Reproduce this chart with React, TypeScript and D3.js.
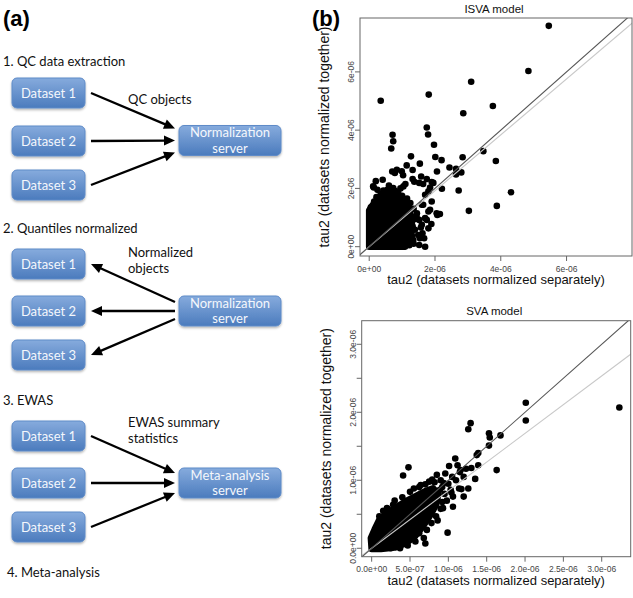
import React from "react";
import * as d3 from "d3";

type P = [number, number];

// ---------- Panel (a) content ----------
const stepTitles = ["1. QC data extraction", "2. Quantiles normalized", "3. EWAS", "4. Meta-analysis"];
const datasetNames = ["Dataset 1", "Dataset 2", "Dataset 3"];
const serverNames = [["Normalization", "server"], ["Normalization", "server"], ["Meta-analysis", "server"]];
const arrowNotes = [["QC objects"], ["Normalized", "objects"], ["EWAS summary", "statistics"]];
const flowDirections = ["in", "out", "in"];

// ---------- Panel (b) content (values in units of 1e-6) ----------
const isvaTitle = "ISVA model";
const svaTitle = "SVA model";
const xAxisTitle = "tau2 (datasets normalized separately)";
const yAxisTitle = "tau2 (datasets normalized together)";

const isvaPoints: P[] = [
  [5.46, 7.58], [4.84, 6.03], [3.10, 5.66], [0.35, 5.01], [1.81, 5.22], [3.76, 4.83], [2.86, 4.58],
  [1.75, 4.09], [1.79, 3.85], [0.71, 3.84], [0.73, 3.62], [0.67, 3.37], [1.97, 3.50], [3.47, 3.28],
  [2.01, 3.08], [1.27, 3.10], [2.84, 3.07], [2.20, 2.97], [3.85, 2.94], [2.44, 2.72], [2.06, 2.58],
  [2.64, 2.67], [2.80, 2.55], [2.64, 2.48], [2.72, 1.93], [2.21, 1.99], [4.31, 1.87], [3.88, 1.40],
  [3.03, 1.23], [2.15, 1.12], [1.89, 0.78], [1.70, 0.0],
  [1.14, 2.79], [1.54, 2.85], [1.32, 2.63], [0.70, 2.58], [0.84, 2.64], [1.03, 2.45], [1.58, 2.41],
  [0.41, 2.30], [1.90, 2.22], [1.37, 2.23], [1.64, 2.15], [1.04, 2.07], [0.14, 2.03], [0.43, 1.93],
  [1.80, 1.90], [1.44, 1.03], [1.57, 0.66], [1.62, 0.46], [1.39, 0.58], [1.29, 0.40], [1.54, 0.29],
  [1.52, 0.92], [1.75, 0.92], [1.85, 1.27], [1.64, 1.44], [2.07, 1.09],
  [0.12, 2.07], [0.73, 2.01], [0.78, 2.53], [0.99, 2.59], [1.32, 2.32], [1.75, 2.32], [1.52, 2.19],
  [1.85, 2.03], [1.95, 2.19], [1.70, 1.78], [1.90, 1.55], [1.60, 1.44], [1.80, 1.21], [1.70, 0.98],
  [2.05, 1.15], [1.60, 0.75], [1.80, 0.63], [1.49, 0.40], [1.67, 0.29], [1.34, 0.23], [1.52, 0.06],
  [0.05, 1.35], [0.15, 1.55], [0.22, 1.70], [0.35, 1.80], [0.45, 1.85], [0.55, 1.95], [0.65, 1.90],
  [0.78, 1.92], [0.88, 1.85], [1.00, 1.75], [1.05, 1.60], [1.12, 1.50], [1.20, 1.35], [1.25, 1.20],
  [1.28, 1.05], [1.30, 0.85], [1.32, 0.70], [1.28, 0.50], [1.30, 0.35], [1.25, 0.20], [1.22, 0.05],
  [1.35, 0.10], [1.40, 0.95], [1.45, 1.15], [1.35, 1.30], [1.25, 1.50], [1.15, 1.65], [0.60, 2.10],
  [0.25, 1.95], [0.95, 2.00], [1.10, 2.15], [0.20, 2.25],
];
// dense cluster outline (solid region)
const isvaCluster: P[] = [
  [0, 0], [0, 1.25], [0.12, 1.45], [0.3, 1.62], [0.5, 1.72], [0.75, 1.78], [0.95, 1.6],
  [1.08, 1.35], [1.15, 1.0], [1.18, 0.6], [1.15, 0.2], [1.1, 0],
];
const isvaTicks = [0, 2, 4, 6];
const isvaTickLabels = ["0e+00", "2e-06", "4e-06", "6e-06"];
const isvaFit = { intercept: 0.0, slope: 0.96 };

const svaPoints: P[] = [
  [3.23, 2.07], [2.01, 2.14], [2.01, 1.88], [1.29, 1.84], [1.26, 1.75], [1.53, 1.69], [1.54, 1.63],
  [1.68, 1.66], [1.53, 1.51], [1.39, 1.40], [1.37, 1.37], [1.39, 1.22], [1.63, 1.15], [1.35, 1.02],
  [1.30, 1.18], [1.23, 1.17], [1.16, 1.15], [1.20, 1.05], [1.17, 0.87], [1.06, 0.61], [0.99, 0.23],
  [0.48, 1.19], [0.41, 1.07], [0.68, 0.15], [0.70, 0.07], [0.37, 0.0], [0.86, 0.41], [1.01, 1.21],
  [1.09, 1.32], [1.14, 0.88], [1.26, 0.88], [0.93, 0.59], [0.85, 1.08], [0.79, 1.01], [0.89, 0.86],
  [1.03, 0.86], [1.06, 0.76], [0.96, 1.10], [0.94, 0.96], [1.04, 0.82], [1.20, 0.76], [0.20, 0.59],
  [0.28, 0.64], [0.64, 0.93],
  [0.10, 0.47], [0.15, 0.55], [0.30, 0.70], [0.40, 0.75], [0.50, 0.83], [0.55, 0.88], [0.62, 0.90],
  [0.70, 0.94], [0.75, 0.98], [0.82, 0.97], [0.90, 1.00], [0.92, 0.90], [0.95, 0.80], [0.92, 0.68],
  [0.90, 0.58], [0.84, 0.47], [0.78, 0.37], [0.72, 0.27], [0.62, 0.22], [0.57, 0.10], [0.47, 0.04],
  [0.25, 0.0], [1.00, 0.95], [1.10, 1.00], [1.15, 1.12], [1.12, 1.22], [1.05, 1.05], [0.98, 0.70],
];
const svaCluster: P[] = [
  [0, -0.01], [-0.01, 0.15], [0.04, 0.28], [0.1, 0.42], [0.2, 0.52], [0.33, 0.61], [0.46, 0.7],
  [0.58, 0.77], [0.7, 0.84], [0.8, 0.88], [0.87, 0.8], [0.84, 0.64], [0.76, 0.48], [0.66, 0.31],
  [0.56, 0.17], [0.44, 0.07], [0.3, 0.01], [0.12, -0.01],
];
const svaTicks = [0, 0.5, 1, 1.5, 2, 2.5, 3];
const svaXTickLabels = ["0.0e+00", "5.0e-07", "1.0e-06", "1.5e-06", "2.0e-06", "2.5e-06", "3.0e-06"];
const svaYTickLabels = ["0.0e+00", "", "1.0e-06", "", "2.0e-06", "", "3.0e-06"];
const svaFit = { intercept: 0.0, slope: 0.845 };

const DIAG_FONT = "Lato, 'Open Sans', sans-serif";
const PLOT_FONT = "'Liberation Sans', Arial, sans-serif";

function Arrow({ x1, y1, x2, y2 }: { x1: number; y1: number; x2: number; y2: number }) {
  const dx = x2 - x1, dy = y2 - y1;
  const len = Math.hypot(dx, dy);
  const ux = dx / len, uy = dy / len;
  const hl = 11, hw = 5;
  const bx = x2 - ux * hl, by = y2 - uy * hl;
  const head = `M${x2},${y2}L${bx - uy * hw},${by + ux * hw}L${bx + uy * hw},${by - ux * hw}Z`;
  return (
    <g>
      <line x1={x1} y1={y1} x2={x2 - ux * 8} y2={y2 - uy * 8} stroke="#000" strokeWidth={2.3} />
      <path d={head} fill="#000" />
    </g>
  );
}

function Box({ x, y, w, h, lines }: { x: number; y: number; w: number; h: number; lines: string[] }) {
  const cy = y + h / 2;
  return (
    <g>
      <rect x={x} y={y} width={w} height={h} rx={5} fill="url(#boxGrad)" stroke="#5f8bc8" strokeWidth={1} filter="url(#shadow)" />
      {lines.map((t, i) => (
        <text key={i} x={x + w / 2} y={cy + 4.5 + (i - (lines.length - 1) / 2) * 15.5} textAnchor="middle"
          fontFamily={DIAG_FONT} fontSize={13} fill="#f4f7fc">{t}</text>
      ))}
    </g>
  );
}

const sectionLayout = [
  { titleY: 66, boxY: [78, 126, 170], serverY: 125.5, noteY: [104], ends: [-12, 0, 12] },
  { titleY: 233, boxY: [249, 296, 340], serverY: 296, noteY: [257, 273], ends: [-9, 0, 8] },
  { titleY: 405, boxY: [421, 468, 512], serverY: 468, noteY: [427, 443], ends: [-10, 0, 10] },
];

function Diagram() {
  return (
    <g>
      <text x={3} y={26} fontFamily={PLOT_FONT} fontWeight="bold" fontSize={22}>(a)</text>
      {sectionLayout.map((s, si) => {
        const srvCy = s.serverY + 15;
        return (
          <g key={si}>
            <text x={3} y={s.titleY} fontFamily={DIAG_FONT} fontSize={13} fill="#111">{stepTitles[si]}</text>
            {datasetNames.map((n, i) => (
              <Box key={n} x={12} y={s.boxY[i]} w={73} h={30} lines={[n]} />
            ))}
            <Box x={179} y={s.serverY} w={102} h={30} lines={serverNames[si]} />
            {datasetNames.map((n, i) => {
              const dsCy = s.boxY[i] + 15;
              return flowDirections[si] === "in"
                ? <Arrow key={n} x1={91} y1={dsCy} x2={175} y2={srvCy + s.ends[i]} />
                : <Arrow key={n} x1={175} y1={srvCy + s.ends[i]} x2={91} y2={dsCy} />;
            })}
            {arrowNotes[si].map((t, i) => (
              <text key={i} x={128} y={s.noteY[i]} fontFamily={DIAG_FONT} fontSize={13} fill="#111">{t}</text>
            ))}
          </g>
        );
      })}
      <text x={7} y={577} fontFamily={DIAG_FONT} fontSize={13} fill="#111">{stepTitles[3]}</text>
    </g>
  );
}

type ScatterProps = {
  id: string;
  box: { x0: number; x1: number; y0: number; y1: number };
  xDom: [number, number];
  yDom: [number, number];
  points: P[];
  cluster: P[];
  xTicks: number[];
  xLabels: string[];
  yTicks: number[];
  yLabels: string[];
  fit: { intercept: number; slope: number };
  title: string;
};

function Scatter(p: ScatterProps) {
  const { box } = p;
  const x = d3.scaleLinear().domain(p.xDom).range([box.x0, box.x1]);
  const y = d3.scaleLinear().domain(p.yDom).range([box.y1, box.y0]);
  const clusterPath = d3.line<P>().x(d => x(d[0])).y(d => y(d[1])).curve(d3.curveLinearClosed)(p.cluster) || "";
  const lo = -5, hi = 20;
  const diag = d3.line<number>().x(v => x(v)).y(v => y(v))([lo, hi]) || "";
  const fitLine = d3.line<number>().x(v => x(v)).y(v => y(p.fit.intercept + p.fit.slope * v))([lo, hi]) || "";
  const cx = (box.x0 + box.x1) / 2, cy = (box.y0 + box.y1) / 2;
  const r = 3.3;
  return (
    <g fontFamily={PLOT_FONT}>
      <defs>
        <clipPath id={`clip-${p.id}`}>
          <rect x={box.x0} y={box.y0} width={box.x1 - box.x0} height={box.y1 - box.y0} />
        </clipPath>
      </defs>
      <g clipPath={`url(#clip-${p.id})`}>
        <path d={clusterPath} fill="#000" stroke="#000" strokeWidth={2 * r} strokeLinejoin="round" />
        {p.points.map((d, i) => (
          <circle key={i} cx={x(d[0])} cy={y(d[1])} r={r} fill="#000" />
        ))}
        <path d={fitLine} stroke="#c8c8c8" strokeWidth={1.1} fill="none" />
        <path d={diag} stroke="#555" strokeWidth={1.1} fill="none" />
      </g>
      <rect x={box.x0} y={box.y0} width={box.x1 - box.x0} height={box.y1 - box.y0} fill="none" stroke="#666" strokeWidth={1} />
      {p.xTicks.map((t, i) => (
        <g key={"x" + i}>
          <line x1={x(t)} x2={x(t)} y1={box.y1} y2={box.y1 + 5} stroke="#666" />
          <text x={x(t)} y={box.y1 + 15.5} textAnchor="middle" fontSize={8.5} fill="#444">{p.xLabels[i]}</text>
        </g>
      ))}
      {p.yTicks.map((t, i) => (
        <g key={"y" + i}>
          <line x1={box.x0 - 5} x2={box.x0} y1={y(t)} y2={y(t)} stroke="#666" />
          {p.yLabels[i] && (
            <text transform={`translate(${box.x0 - 6},${y(t)}) rotate(-90)`} textAnchor="middle" fontSize={8.5} fill="#444">{p.yLabels[i]}</text>
          )}
        </g>
      ))}
      <text x={cx - 2} y={box.y0 - 5.5} textAnchor="middle" fontSize={11.5} fill="#111">{p.title}</text>
      <text x={cx} y={box.y1 + 28} textAnchor="middle" fontSize={13} fill="#111">{xAxisTitle}</text>
      <text transform={`translate(${box.x0 - 31},${cy}) rotate(-90)`} textAnchor="middle" fontSize={14} fill="#111">{yAxisTitle}</text>
    </g>
  );
}

export default function App() {
  return (
    <svg width={633} height={598} style={{ position: "absolute", left: 0, top: 0, background: "#fff" }}>
      <defs>
        <linearGradient id="boxGrad" x1="0" y1="0" x2="0" y2="1">
          <stop offset="0%" stopColor="#86abdd" />
          <stop offset="100%" stopColor="#4b7bbd" />
        </linearGradient>
        <filter id="shadow" x="-10%" y="-10%" width="130%" height="150%">
          <feDropShadow dx="0" dy="1.5" stdDeviation="1.2" floodColor="#000" floodOpacity="0.3" />
        </filter>
      </defs>
      <rect width={633} height={598} fill="#fff" />
      <Diagram />
      <text x={312} y={26} fontFamily={PLOT_FONT} fontWeight="bold" fontSize={22}>(b)</text>
      <Scatter id="isva" box={{ x0: 360, x1: 632, y0: 18, y1: 256 }} xDom={[-0.28, 7.99]} yDom={[-0.32, 7.85]}
        points={isvaPoints} cluster={isvaCluster} xTicks={isvaTicks} xLabels={isvaTickLabels}
        yTicks={isvaTicks} yLabels={isvaTickLabels} fit={isvaFit} title={isvaTitle} />
      <Scatter id="sva" box={{ x0: 361.7, x1: 630.7, y0: 320.7, y1: 556.7 }} xDom={[-0.13, 3.378]} yDom={[-0.124, 3.347]}
        points={svaPoints} cluster={svaCluster} xTicks={svaTicks} xLabels={svaXTickLabels}
        yTicks={svaTicks} yLabels={svaYTickLabels} fit={svaFit} title={svaTitle} />
    </svg>
  );
}
